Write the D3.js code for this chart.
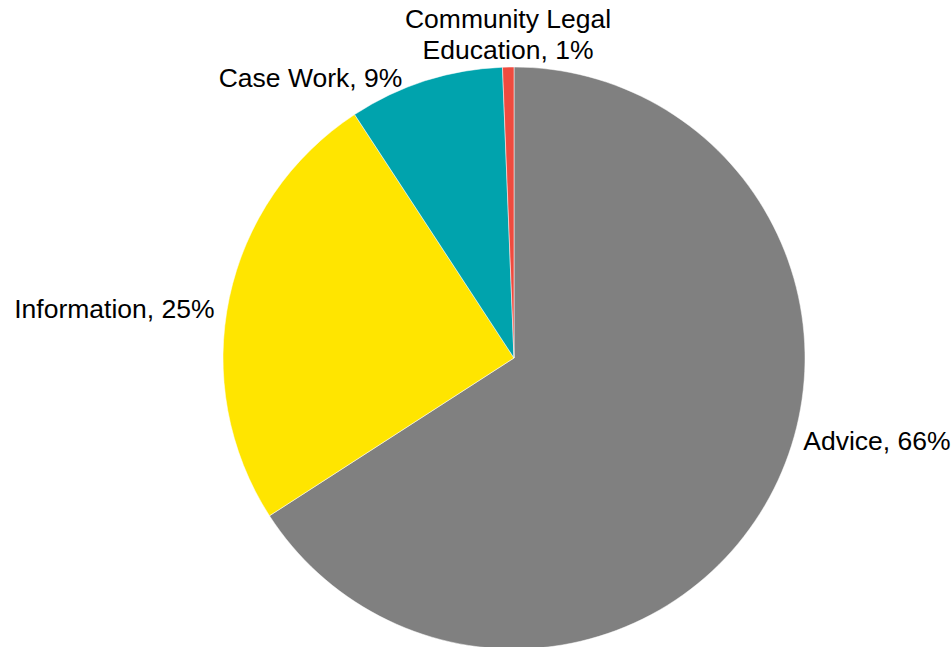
<!DOCTYPE html>
<html>
<head>
<meta charset="utf-8">
<script src="https://cdn.jsdelivr.net/npm/d3@7"></script>
<style>
  body { margin: 0; background: #fff; }
  text { font-family: "Liberation Sans", Arial, sans-serif; fill: #000; }
</style>
</head>
<body>
<div id="pie"></div>
<script>
// slice data, clockwise from 12 o'clock
var categories = ["Advice", "Information", "Case Work", "Community Legal Education"];
var values = [65.9, 24.9, 8.6, 0.63];
var labels = [["Advice, 66%"], ["Information, 25%"], ["Case Work, 9%"], ["Community Legal", "Education, 1%"]];
var colors = ["#808080", "#FFE500", "#00A3AD", "#EF4B3F"];

var width = 951, height = 647;
var cx = 514, cy = 358, radius = 291;

// label nudges relative to a point just outside the slice's mid-angle
var labelLayout = {
  "Advice": {anchor: "start", dx: 25, dy: -52},
  "Information": {anchor: "end", dx: -5, dy: 22},
  "Case Work": {anchor: "end", dx: -20, dy: 16},
  "Community Legal Education": {anchor: "middle", dx: 0, dy: -29}
};

var svg = d3.select("#pie").append("svg")
    .attr("width", width)
    .attr("height", height);

var g = svg.append("g")
    .attr("transform", "translate(" + cx + "," + cy + ")");

var data = categories.map(function(c, i) {
  return {name: c, value: values[i], label: labels[i], color: colors[i]};
});

var pie = d3.pie()
    .sort(null)
    .value(function(d) { return d.value; });

var arc = d3.arc()
    .innerRadius(0)
    .outerRadius(radius);

var arcs = pie(data);

g.selectAll("path.slice")
    .data(arcs)
    .enter()
    .append("path")
    .attr("class", "slice")
    .attr("d", arc)
    .style("fill", function(d) { return d.data.color; })
    .style("stroke", "#fff")
    .style("stroke-width", 0.5);

// labels
var labelR = radius + 10;
var lbl = g.selectAll("text.lbl")
    .data(arcs)
    .enter()
    .append("text")
    .attr("class", "lbl")
    .style("font-size", "26.5px")
    .attr("text-anchor", function(d) { return labelLayout[d.data.name].anchor; })
    .attr("transform", function(d) {
      var mid = (d.startAngle + d.endAngle) / 2;
      var lay = labelLayout[d.data.name];
      var x = Math.sin(mid) * labelR + lay.dx;
      var y = -Math.cos(mid) * labelR + lay.dy;
      return "translate(" + x + "," + y + ")";
    });

lbl.selectAll("tspan")
    .data(function(d) { return d.data.label; })
    .enter()
    .append("tspan")
    .attr("x", 0)
    .attr("dy", function(d, i) { return i === 0 ? 0 : "1.17em"; })
    .text(function(d) { return d; });
</script>
</body>
</html>
